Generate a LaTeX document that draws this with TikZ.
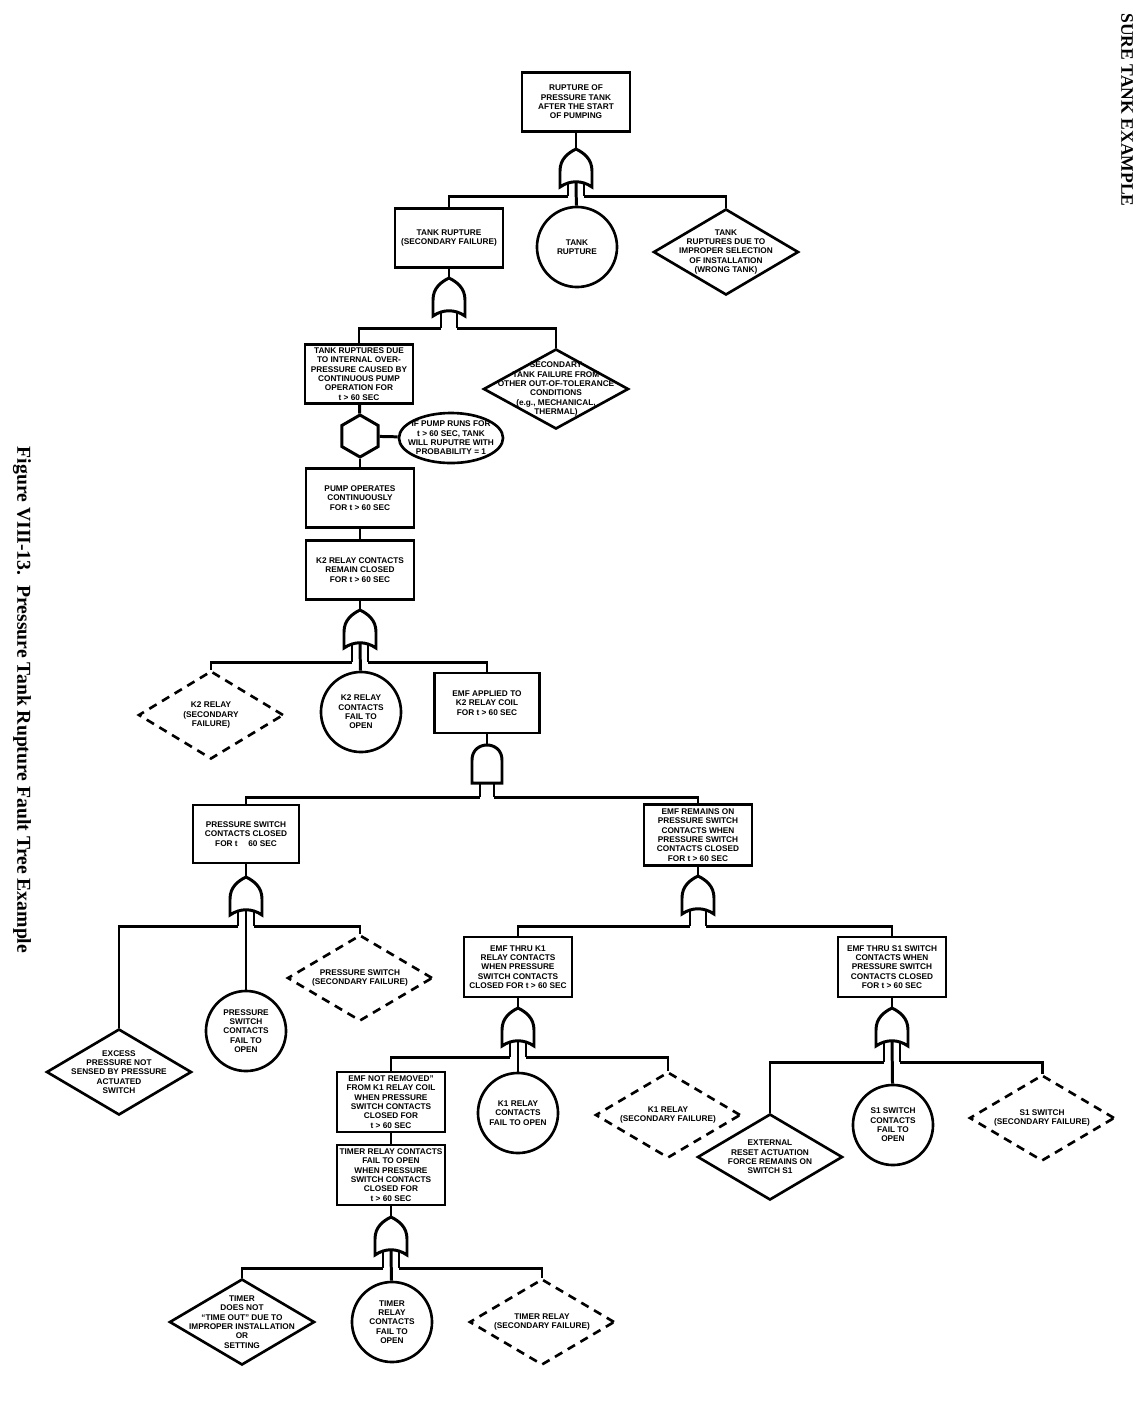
\documentclass[tikz,border=0pt]{standalone}
\usepackage{fontspec}
\setmainfont{Liberation Sans}
\newfontfamily\capfont{Liberation Serif}
\usetikzlibrary{shapes.geometric}

\tikzset{
  ev/.style={font=\fontsize{2.35}{2.65}\selectfont\bfseries, align=center, inner sep=0pt, line width=0.75pt},
  box/.style={ev, draw, rectangle, minimum width=1.08cm, minimum height=0.59cm},
  basic/.style={ev, draw, circle, minimum size=0.8cm},
  undev/.style={draw, diamond, inner sep=0pt, line width=0.75pt, minimum width=1.45cm, minimum height=0.86cm,
    label={[ev]center:#1}},
  second/.style={undev={#1}, dash pattern=on 2.4pt off 1.8pt},
  wire/.style={line width=0.85pt},
  gate/.style={line width=0.85pt, fill=white},
}

% OR gate: apex at #1, bus level #2 below apex
\newcommand{\orgate}[2]{
  \begin{scope}[shift={(#1)}]
    \draw[gate] (-16,38) -- (-16,22) .. controls (-16,10) and (-8,4) .. (0,0)
      .. controls (8,4) and (16,10) .. (16,22) -- (16,38)
      .. controls (6,31) and (-6,31) .. (-16,38) -- cycle;
    \draw[wire] (-8,34) -- (-8,#2) coordinate (#1-l);
    \draw[wire] (8,34) -- (8,#2) coordinate (#1-r);
    \coordinate (#1-c) at (0,32);
  \end{scope}}
% AND gate
\newcommand{\andgate}[2]{
  \begin{scope}[shift={(#1)}]
    \draw[gate] (-15,38) -- (-15,15) .. controls (-15,-5) and (15,-5) .. (15,15)
      -- (15,38) -- cycle;
    \draw[wire] (-7,38) -- (-7,#2) coordinate (#1-l);
    \draw[wire] (7,38) -- (7,#2) coordinate (#1-r);
  \end{scope}}

\begin{document}
\begin{tikzpicture}[x=0.01cm, y=-0.01cm]
  \useasboundingbox (0,0) rectangle (1140,1405);

  % headings
  \node[rotate=-90, font=\capfont\fontsize{5}{6}\selectfont\bfseries] (head) at (1127,110) {SURE TANK EXAMPLE};
  \node[rotate=-90, font=\capfont\fontsize{5.6}{6}\selectfont\bfseries] (cap) at (22,700)
    {Figure VIII-13.\ \ Pressure Tank Rupture Fault Tree Example};

  % top of tree
  \node[box] (top) at (576,102) {RUPTURE OF\\PRESSURE TANK\\AFTER THE START\\OF PUMPING};
  \coordinate (g1) at (576,149);
  \node[box] (tr) at (449,238) {TANK RUPTURE\\(SECONDARY FAILURE)};
  \node[basic] (trc) at (577,247) {TANK\\RUPTURE};
  \node[undev={TANK\\RUPTURES DUE TO\\IMPROPER SELECTION\\OF INSTALLATION\\(WRONG TANK)}] (trd) at (726,252) {};
  \orgate{g1}{47}
  \draw[wire] (top) -- (g1);
  \draw[wire] (g1-l) -| (tr);
  \draw[wire] (g1-c) -- (trc);
  \draw[wire] (g1-r) -| (trd);

  % secondary rupture
  \coordinate (g2) at (449,278);
  \node[box] (ir) at (359,374) {TANK RUPTURES DUE\\TO INTERNAL OVER-\\PRESSURE CAUSED BY\\CONTINUOUS PUMP\\OPERATION FOR\\t > 60 SEC};
  \node[undev={SECONDARY\\TANK FAILURE FROM\\OTHER OUT-OF-TOLERANCE\\CONDITIONS\\(e.g., MECHANICAL,\\THERMAL)}, minimum height=0.8cm] (sd) at (556,389) {};
  \orgate{g2}{50}
  \draw[wire] (tr) -- (g2);
  \draw[wire] (g2-l) -| (ir);
  \draw[wire] (g2-r) -| (sd);

  % inhibit
  \node[draw, regular polygon, regular polygon sides=6, shape border rotate=90, minimum size=0.42cm, line width=0.85pt] (hex) at (360,436) {};
  \node[draw, ellipse, line width=0.75pt, minimum width=1.04cm, minimum height=0.5cm, inner sep=0pt,
    label={[ev]center:IF PUMP RUNS FOR\\t > 60 SEC, TANK\\WILL RUPUTRE WITH\\PROBABILITY = 1}] (ell) at (451,438) {};
  \node[box] (pump) at (360,498) {PUMP OPERATES\\CONTINUOUSLY\\FOR t > 60 SEC};
  \node[box] (k2) at (360,570) {K2 RELAY CONTACTS\\REMAIN CLOSED\\FOR t > 60 SEC};
  \draw[wire] (ir) -- (hex);
  \draw[wire] (hex) -- (ell);
  \draw[wire] (hex) -- (pump);
  \draw[wire] (pump) -- (k2);

  % K2 contacts
  \coordinate (g3) at (360,610);
  \node[second={K2 RELAY\\(SECONDARY\\FAILURE)}, minimum height=0.88cm] (k2d) at (211,715) {};
  \node[basic] (k2c) at (361,712) {K2 RELAY\\CONTACTS\\FAIL TO\\OPEN};
  \node[box, minimum width=1.05cm, minimum height=0.6cm] (emf) at (487,703) {EMF APPLIED TO\\K2 RELAY COIL\\FOR t > 60 SEC};
  \orgate{g3}{52}
  \draw[wire] (k2) -- (g3);
  \draw[wire] (g3-l) -| (k2d);
  \draw[wire] (g3-c) -- (k2c);
  \draw[wire] (g3-r) -| (emf);

  % EMF on coil
  \coordinate (ga) at (487,745);
  \node[box, minimum width=1.06cm, minimum height=0.58cm] (ps) at (246,834) {PRESSURE SWITCH\\CONTACTS CLOSED\\FOR t \quad 60 SEC};
  \node[box, minimum height=0.61cm] (er) at (698,835) {EMF REMAINS ON\\PRESSURE SWITCH\\CONTACTS WHEN\\PRESSURE SWITCH\\CONTACTS CLOSED\\FOR t > 60 SEC};
  \andgate{ga}{52}
  \draw[wire] (emf) -- (ga);
  \draw[wire] (ga-l) -| (ps);
  \draw[wire] (ga-r) -| (er);

  % pressure switch branch
  \coordinate (gp) at (246,877);
  \node[undev={EXCESS\\PRESSURE NOT\\SENSED BY PRESSURE\\ACTUATED\\SWITCH}] (exd) at (119,1072) {};
  \node[basic] (psc) at (246,1031) {PRESSURE\\SWITCH\\CONTACTS\\FAIL TO\\OPEN};
  \node[second={PRESSURE SWITCH\\(SECONDARY FAILURE)}] (psd) at (360,978) {};
  \orgate{gp}{49}
  \draw[wire] (ps) -- (gp);
  \draw[wire] (gp-l) -| (exd);
  \draw[wire] (gp-c) -- (psc);
  \draw[wire] (gp-r) -| (psd);

  % EMF remains branch
  \coordinate (ge) at (698,876);
  \node[box, minimum height=0.6cm] (k1) at (518,967) {EMF THRU K1\\RELAY CONTACTS\\WHEN PRESSURE\\SWITCH CONTACTS\\CLOSED FOR t > 60 SEC};
  \node[box, minimum height=0.6cm] (s1) at (892,967) {EMF THRU S1 SWITCH\\CONTACTS WHEN\\PRESSURE SWITCH\\CONTACTS CLOSED\\FOR t > 60 SEC};
  \orgate{ge}{50}
  \draw[wire] (er) -- (ge);
  \draw[wire] (ge-l) -| (k1);
  \draw[wire] (ge-r) -| (s1);

  % K1 branch
  \coordinate (gk) at (518,1008);
  \node[box, minimum height=0.6cm] (nr) at (391,1102) {EMF NOT REMOVED"\\FROM K1 RELAY COIL\\WHEN PRESSURE\\SWITCH CONTACTS\\CLOSED FOR\\t > 60 SEC};
  \node[basic] (k1c) at (518,1113) {K1 RELAY\\CONTACTS\\FAIL TO OPEN};
  \node[second={K1 RELAY\\(SECONDARY FAILURE)}] (k1d) at (668,1115) {};
  \orgate{gk}{49}
  \draw[wire] (k1) -- (gk);
  \draw[wire] (gk-l) -| (nr);
  \draw[wire] (gk-c) -- (k1c);
  \draw[wire] (gk-r) -| (k1d);

  % S1 branch
  \coordinate (gs) at (892,1008);
  \node[undev={EXTERNAL\\RESET ACTUATION\\FORCE REMAINS ON\\SWITCH S1}] (ext) at (770,1157) {};
  \node[basic] (s1c) at (893,1125) {S1 SWITCH\\CONTACTS\\FAIL TO\\OPEN};
  \node[second={S1 SWITCH\\(SECONDARY FAILURE)}] (s1d) at (1042,1118) {};
  \orgate{gs}{54}
  \draw[wire] (s1) -- (gs);
  \draw[wire] (gs-l) -| (ext);
  \draw[wire] (gs-c) -- (s1c);
  \draw[wire] (gs-r) -| (s1d);

  % timer branch
  \node[box, minimum height=0.6cm] (tm) at (391,1175) {TIMER RELAY CONTACTS\\FAIL TO OPEN\\WHEN PRESSURE\\SWITCH CONTACTS\\CLOSED FOR\\t > 60 SEC};
  \draw[wire] (nr) -- (tm);
  \coordinate (gt) at (391,1217);
  \node[undev={TIMER\\DOES NOT\\``TIME OUT'' DUE TO\\IMPROPER INSTALLATION\\OR\\SETTING}] (tmd) at (242,1322) {};
  \node[basic] (tmc) at (392,1322) {TIMER\\RELAY\\CONTACTS\\FAIL TO\\OPEN};
  \node[second={TIMER RELAY\\(SECONDARY FAILURE)}] (tmdd) at (542,1322) {};
  \orgate{gt}{51}
  \draw[wire] (tm) -- (gt);
  \draw[wire] (gt-l) -| (tmd);
  \draw[wire] (gt-c) -- (tmc);
  \draw[wire] (gt-r) -| (tmdd);
\end{tikzpicture}
\end{document}
